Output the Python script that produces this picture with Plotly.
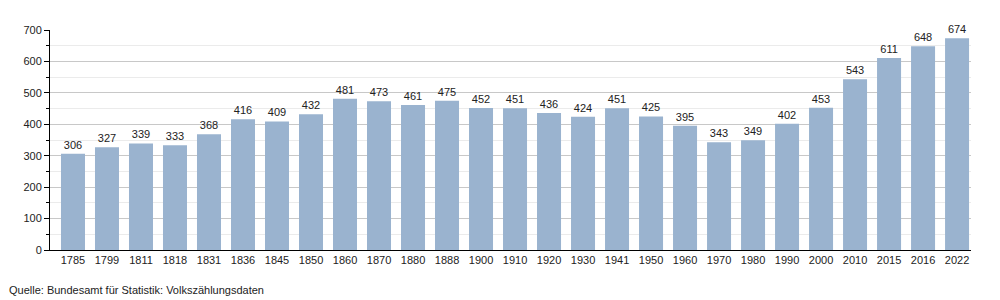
import plotly.graph_objects as go

years = ["1785", "1799", "1811", "1818", "1831", "1836", "1845", "1850", "1860", "1870",
         "1880", "1888", "1900", "1910", "1920", "1930", "1941", "1950", "1960", "1970",
         "1980", "1990", "2000", "2010", "2015", "2016", "2022"]
population = [306, 327, 339, 333, 368, 416, 409, 432, 481, 473,
              461, 475, 452, 451, 436, 424, 451, 425, 395, 343,
              349, 402, 453, 543, 611, 648, 674]
y_ticks = [0, 100, 200, 300, 400, 500, 600, 700]
source_text = "Quelle: Bundesamt für Statistik: Volkszählungsdaten"

FONT = "Liberation Sans, Arial, sans-serif"

fig = go.Figure(go.Bar(
    x=years, y=population,
    marker=dict(color="#9ab3cf", line=dict(width=0)),
    text=[str(v) for v in population],
    textposition="outside",
    textfont=dict(family=FONT, size=11, color="#222222"),
    cliponaxis=False,
))

fig.update_layout(
    width=1000, height=300,
    margin=dict(l=50, r=29, t=30, b=50),
    paper_bgcolor="white", plot_bgcolor="white",
    bargap=0.294,
    showlegend=False,
    font=dict(family=FONT, size=11, color="#222222"),
    xaxis=dict(
        type="category",
        range=[-0.676, 26.41],
        showline=True, linecolor="black", linewidth=1,
        ticks="", showgrid=False,
        tickfont=dict(family=FONT, size=11, color="#222222"),
    ),
    yaxis=dict(
        range=[0, 700],
        tickvals=y_ticks,
        showline=True, linecolor="black", linewidth=1,
        ticks="outside", ticklen=5, tickcolor="black",
        showgrid=True, gridcolor="#c8c8c8", gridwidth=1,
        zeroline=False,
        minor=dict(dtick=50, tick0=0, ticks="outside", ticklen=3, tickcolor="black",
                   showgrid=True, gridcolor="#ebebeb", gridwidth=1),
        tickfont=dict(family=FONT, size=11, color="#222222"),
    ),
    annotations=[dict(
        text=source_text, xref="paper", yref="paper",
        x=-0.047, y=-0.145, xanchor="left", yanchor="top",
        showarrow=False, font=dict(family=FONT, size=11, color="#222222"),
    )],
)

fig.write_html("out.html")
